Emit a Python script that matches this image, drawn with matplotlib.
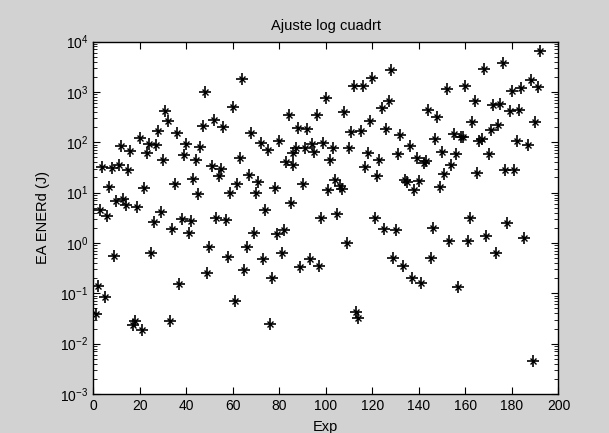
import matplotlib
matplotlib.use("Agg")
import matplotlib.pyplot as plt
from matplotlib.ticker import LogLocator, FixedLocator, NullFormatter

plt.rcParams["font.family"] = ["Liberation Sans", "DejaVu Sans"]
plt.rcParams["mathtext.default"] = "regular"

exp = [1, 2, 3, 4, 5, 6, 7, 8, 9, 10, 11, 12, 13, 14, 15, 16, 17, 18, 19, 20,
       21, 22, 23, 24, 25, 26, 27, 28, 29, 30, 31, 32, 33, 34, 35, 36, 37, 38, 39, 40,
       41, 42, 43, 44, 45, 46, 47, 48, 49,
       50, 51, 52, 53, 54, 55, 56, 57, 58, 59, 60, 61, 62, 63, 64, 65, 66, 67, 68, 69,
       70, 71, 72, 73, 74, 75, 76, 77, 78, 79, 80, 81, 82, 83, 84, 85, 86, 86, 87, 88,
       89, 90, 91, 92, 93, 94, 95, 96,
       97, 98, 99, 100, 101, 102, 103, 104, 105, 106, 107, 108, 109, 110, 111, 112,
       113, 114, 115, 116, 117, 118, 119, 120, 121, 122, 123, 124, 125, 126, 127, 128,
       129, 130, 131, 132, 133, 134, 135, 136, 137, 138, 139, 140, 141, 142, 143, 144,
       145, 146, 147, 148, 149, 150, 151, 152, 153, 154, 155, 156, 157, 158, 159, 160,
       161, 162, 163, 164, 165, 166, 167, 168, 169, 170, 171, 172, 173, 174, 175, 176,
       177, 178, 179, 180, 181, 182, 183, 184, 185, 187, 188, 189, 190, 191, 192]
energia = [0.039, 0.14, 4.5, 32, 0.085, 3.5, 13, 31, 0.55, 6.7, 36, 85, 7.4, 5.8, 28, 66,
           0.023, 0.028, 5.1, 123, 0.019, 12.6, 62, 93, 0.63, 2.6, 90, 170, 4.2, 45,
           427, 263, 0.028, 1.86, 15, 155, 0.15, 3.0, 55, 94, 1.55, 2.7, 19, 45, 9.3,
           81, 210, 1000, 0.25,
           0.85, 34, 275, 3.2, 21, 29, 200, 2.9, 0.52, 10, 500, 0.069, 15, 48, 1780,
           0.29, 0.85, 22, 155, 1.55, 10, 16, 98, 0.48, 4.6, 71, 0.025, 0.20, 12.6,
           1.5, 104, 0.63, 1.8, 41, 345, 6.1, 61, 36, 78, 192, 0.34, 15, 78, 182,
           0.47, 93, 65, 345,
           0.35, 3.1, 96, 770, 11.5, 45, 76, 18, 3.8, 13.5, 12, 400, 0.98, 78, 160,
           1290, 0.043, 0.032, 170, 1290, 32, 61, 263, 1900, 3.2, 21, 44, 470, 1.9,
           182, 650, 2700, 0.50, 1.8, 59, 140, 0.35, 18, 16, 83, 0.20, 11.5, 48, 17,
           0.16, 38, 43, 435,
           0.50, 2.0, 117, 315, 13, 65, 23, 1140, 1.1, 36, 148, 59, 0.135, 129, 126,
           1290, 1.1, 3.1, 257, 646, 25, 107, 117, 2900, 1.4, 59, 174, 550, 0.63, 218,
           575, 3800, 28, 2.5, 415, 1030, 28, 104, 435, 1200, 1.25, 89, 1740, 0.0046,
           250, 1260, 6500]

fig = plt.figure(figsize=(6.09, 4.33), dpi=100, facecolor="#d2d2d2")
ax = fig.add_axes([0.153, 0.090, 0.764, 0.814])

# marcador tipo '*' de MATLAB: cruz + aspa pequeña
ax.plot(exp, energia, linestyle="none", marker="+", markersize=8.5, color="black", mew=1.2)
ax.plot(exp, energia, linestyle="none", marker="x", markersize=4, color="black", mew=1.0)

ax.set_yscale("log")
ax.set_xlim(0, 200)
ax.set_ylim(1e-3, 1e4)
ax.xaxis.set_major_locator(FixedLocator(range(0, 201, 20)))
ax.yaxis.set_minor_locator(LogLocator(base=10, subs=range(2, 10), numticks=20))
ax.yaxis.set_minor_formatter(NullFormatter())
ax.set_yticks([10.0 ** k for k in range(-3, 5)])
ax.set_yticklabels([f"$10^{{{k}}}$" for k in range(-3, 5)])

ax.tick_params(which="both", direction="in", top=True, right=True, labelsize=10)
ax.tick_params(which="major", length=5)
ax.tick_params(which="minor", length=3)
for s in ax.spines.values():
    s.set_linewidth(1.0)

ax.set_title("Ajuste log cuadrt", fontsize=10.5, pad=8.5)
ax.set_xlabel("Exp", fontsize=10.5, labelpad=5)
ax.set_ylabel("EA ENERd (J)", fontsize=10.5, labelpad=7)

fig.savefig("out.png", dpi=100, facecolor=fig.get_facecolor())
